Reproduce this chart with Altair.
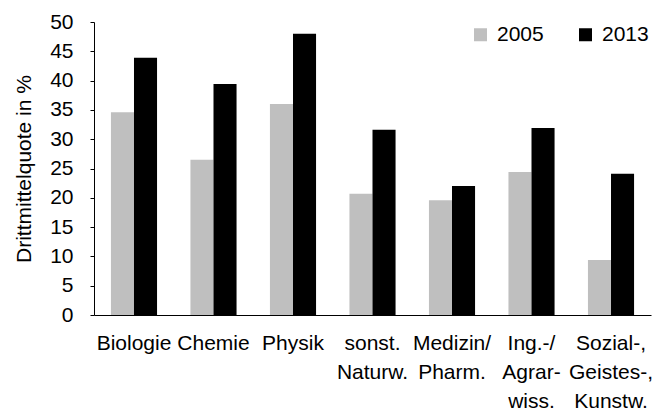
import altair as alt
import pandas as pd

categories = ["Biologie", "Chemie", "Physik", "sonst.|Naturw.", "Medizin/|Pharm.",
              "Ing.-/|Agrar-|wiss.", "Sozial-,|Geistes-,|Kunstw."]
years = ["2005", "2013"]
values_2005 = [34.6, 26.5, 36.0, 20.7, 19.6, 24.4, 9.4]
values_2013 = [43.9, 39.4, 48.0, 31.6, 22.0, 31.9, 24.1]
y_ticks = [0, 5, 10, 15, 20, 25, 30, 35, 40, 45, 50]
colors = ["#BFBFBF", "#000000"]

rows = []
for c, a, b in zip(categories, values_2005, values_2013):
    rows.append({"cat": c, "year": "2005", "value": a})
    rows.append({"cat": c, "year": "2013", "value": b})
df = pd.DataFrame(rows)

FONT = "Liberation Sans"
FS = 21

chart = alt.Chart(df).mark_bar().encode(
    x=alt.X("cat:N", sort=categories, title=None,
            scale=alt.Scale(paddingInner=0.42, paddingOuter=0.213),
            axis=alt.Axis(labelAngle=0, ticks=False, domainColor="black", domainWidth=1,
                          labelExpr="split(datum.label, '|')", labelLineHeight=29,
                          labelPadding=17, labelFontSize=FS, labelColor="black",
                          labelFont=FONT, labelBaseline="top")),
    xOffset=alt.XOffset("year:N", sort=years, scale=alt.Scale(paddingInner=0, paddingOuter=0)),
    y=alt.Y("value:Q", title="Drittmittelquote in %",
            scale=alt.Scale(domain=[0, 50], nice=False),
            axis=alt.Axis(values=y_ticks, grid=False, domainColor="black", tickColor="black",
                          tickSize=4, labelPadding=17, labelFontSize=FS, labelColor="black",
                          labelFont=FONT, titleFont=FONT, titleFontSize=FS,
                          titleFontWeight="normal", titleColor="black", titlePadding=15)),
    color=alt.Color("year:N", sort=years, scale=alt.Scale(domain=years, range=colors),
                    legend=alt.Legend(title=None, orient="none", direction="horizontal",
                                      legendX=376, legendY=2, symbolType="square",
                                      symbolSize=169, symbolStrokeWidth=0,
                                      labelFontSize=FS, labelFont=FONT, labelColor="black",
                                      columnPadding=31, labelOffset=6)),
).properties(
    width=557, height=293,
    padding={"left": 5, "top": 3, "right": 5, "bottom": 2},
).configure_view(stroke=None)

chart.save("out.html", embed_options={"renderer": "svg", "actions": False})
